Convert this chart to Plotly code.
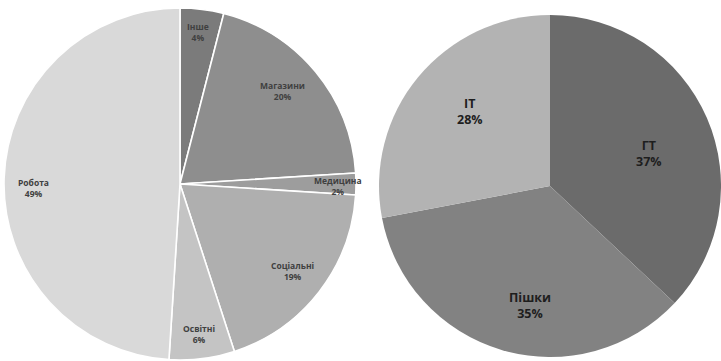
import math
import plotly.graph_objects as go

# Trip purposes (left pie)
purpose_labels = ["Інше", "Магазини", "Медицина", "Соціальні", "Освітні", "Робота"]
purpose_values = [4, 20, 2, 19, 6, 49]
purpose_colors = ["#7b7b7b", "#8e8e8e", "#9d9d9d", "#afafaf", "#c4c4c4", "#d9d9d9"]

# Travel modes (right pie)
mode_labels = ["ГТ", "Пішки", "ІТ"]
mode_values = [37, 35, 28]
mode_colors = ["#6b6b6b", "#828282", "#b3b3b3"]

W, H = 721, 361

# pie geometry in pixels: centre x, centre y (from top), radius
left_geom = (180, 184, 176)
right_geom = (550, 186, 171)


def domain_for(cx, cy, r):
    return dict(x=[(cx - r) / W, (cx + r) / W],
                y=[1 - (cy + r) / H, 1 - (cy - r) / H])


fig = go.Figure()
fig.add_trace(go.Pie(
    labels=purpose_labels, values=purpose_values, sort=False,
    direction="clockwise", rotation=0,
    marker=dict(colors=purpose_colors, line=dict(color="white", width=1.6)),
    textinfo="none", hoverinfo="label+percent",
    domain=domain_for(*left_geom), showlegend=False,
))
fig.add_trace(go.Pie(
    labels=mode_labels, values=mode_values, sort=False,
    direction="clockwise", rotation=0,
    marker=dict(colors=mode_colors, line=dict(width=0)),
    textinfo="none", hoverinfo="label+percent",
    domain=domain_for(*right_geom), showlegend=False,
))


def add_labels(labels, values, geom, place, size, color):
    """place: label -> (radius fraction, angular shift in degrees)"""
    cx, cy, r = geom
    total = sum(values)
    cum = 0
    for lab, v in zip(labels, values):
        frac = v / total
        rfrac, shift = place[lab]
        mid = (cum + frac / 2) * 2 * math.pi + math.radians(shift)
        cum += frac
        rr = r * rfrac
        x = cx + rr * math.sin(mid)
        y = cy - rr * math.cos(mid)
        pct = round(frac * 100)
        fig.add_annotation(
            x=x / W, y=1 - y / H, xref="paper", yref="paper",
            text=f"<b>{lab}<br>{pct}%</b>", showarrow=False,
            font=dict(family="Open Sans", size=size, color=color),
            align="center", xanchor="center", yanchor="middle",
        )


add_labels(purpose_labels, purpose_values, left_geom,
           {"Інше": (0.87, -0.5), "Магазини": (0.785, -2.8), "Медицина": (0.9, 0.7),
            "Соціальні": (0.81, 0.0), "Освітні": (0.86, 0.0), "Робота": (0.83, -3.4)},
           8.5, "#404040")
add_labels(mode_labels, mode_values, right_geom,
           {"ГТ": (0.61, 5.4), "Пішки": (0.71, -6.5), "ІТ": (0.64, 3.2)},
           12.5, "#1e1e1e")

fig.update_layout(
    width=W, height=H,
    margin=dict(l=0, r=0, t=0, b=0),
    paper_bgcolor="white", plot_bgcolor="white",
)

fig.write_html("out.html")
